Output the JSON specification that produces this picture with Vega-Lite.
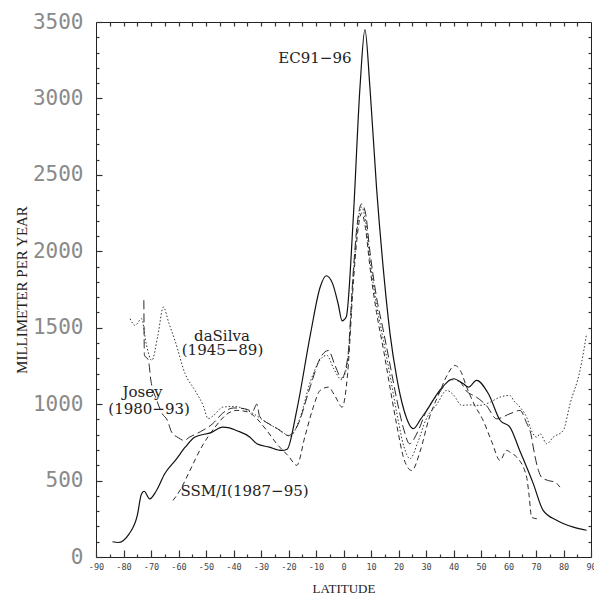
{
  "$schema": "https://vega.github.io/schema/vega-lite/v6.json",
  "width": 495,
  "height": 535,
  "autosize": {"type": "none"},
  "padding": {"left": 96, "top": 22, "right": 3, "bottom": 39},
  "background": "white",
  "config": {
    "view": {"stroke": "#222", "strokeWidth": 1},
    "axis": {"grid": false, "ticks": true, "tickColor": "#333", "tickWidth": 1.2, "domain": false, "labelFlush": false, "labelOverlap": false}
  },
  "datasets": {
    "ec": [
      {"lat": -84, "mm": 100}, {"lat": -82, "mm": 95}, {"lat": -78, "mm": 150}, {"lat": -75, "mm": 270},
      {"lat": -73.5, "mm": 410}, {"lat": -72.5, "mm": 430}, {"lat": -70.5, "mm": 380}, {"lat": -68, "mm": 435},
      {"lat": -65, "mm": 545}, {"lat": -61, "mm": 635}, {"lat": -57.5, "mm": 720}, {"lat": -54, "mm": 785},
      {"lat": -48, "mm": 815}, {"lat": -44, "mm": 850}, {"lat": -41.5, "mm": 845}, {"lat": -39, "mm": 828},
      {"lat": -34, "mm": 784}, {"lat": -31.5, "mm": 741}, {"lat": -27, "mm": 719}, {"lat": -22.5, "mm": 697},
      {"lat": -20.5, "mm": 705}, {"lat": -17, "mm": 960}, {"lat": -12, "mm": 1460}, {"lat": -8.5, "mm": 1765},
      {"lat": -6.3, "mm": 1840}, {"lat": -4, "mm": 1790}, {"lat": -2, "mm": 1660}, {"lat": -0.5, "mm": 1545},
      {"lat": 1, "mm": 1570}, {"lat": 3.5, "mm": 2200}, {"lat": 6, "mm": 3075}, {"lat": 7.8, "mm": 3450},
      {"lat": 9.6, "mm": 3075}, {"lat": 12, "mm": 2420}, {"lat": 14.5, "mm": 1880}, {"lat": 17, "mm": 1450},
      {"lat": 19.3, "mm": 1180}, {"lat": 22, "mm": 960}, {"lat": 25.4, "mm": 840}, {"lat": 28, "mm": 900},
      {"lat": 30.3, "mm": 960}, {"lat": 35, "mm": 1090}, {"lat": 40, "mm": 1166}, {"lat": 43.6, "mm": 1133},
      {"lat": 45.4, "mm": 1111}, {"lat": 48.4, "mm": 1155}, {"lat": 52.7, "mm": 1068}, {"lat": 57, "mm": 893},
      {"lat": 60.5, "mm": 850}, {"lat": 64, "mm": 700}, {"lat": 69, "mm": 480}, {"lat": 72.6, "mm": 305},
      {"lat": 77.5, "mm": 240}, {"lat": 83.6, "mm": 195}, {"lat": 88.4, "mm": 175}
    ],
    "dasilva": [
      {"lat": -77.6, "mm": 1559}, {"lat": -75.8, "mm": 1515}, {"lat": -73.4, "mm": 1559}, {"lat": -71.8, "mm": 1400},
      {"lat": -69.7, "mm": 1286}, {"lat": -67.5, "mm": 1450}, {"lat": -65.5, "mm": 1635}, {"lat": -63.5, "mm": 1530},
      {"lat": -61.3, "mm": 1417}, {"lat": -57.6, "mm": 1199}, {"lat": -54, "mm": 1090}, {"lat": -51, "mm": 990},
      {"lat": -49.2, "mm": 905}, {"lat": -47, "mm": 930}, {"lat": -44, "mm": 980}, {"lat": -40, "mm": 985},
      {"lat": -37, "mm": 975}, {"lat": -33, "mm": 940}, {"lat": -28, "mm": 880}, {"lat": -23, "mm": 828},
      {"lat": -19.5, "mm": 790}, {"lat": -16, "mm": 900}, {"lat": -12, "mm": 1150}, {"lat": -8.5, "mm": 1290},
      {"lat": -6.1, "mm": 1320}, {"lat": -3.5, "mm": 1230}, {"lat": -0.7, "mm": 1160}, {"lat": 1.5, "mm": 1280},
      {"lat": 3.6, "mm": 1850}, {"lat": 5, "mm": 2150}, {"lat": 6.6, "mm": 2290}, {"lat": 8, "mm": 2200},
      {"lat": 9.6, "mm": 1950}, {"lat": 12, "mm": 1650}, {"lat": 14.5, "mm": 1420}, {"lat": 17, "mm": 1180},
      {"lat": 19.5, "mm": 930}, {"lat": 22, "mm": 720}, {"lat": 24.2, "mm": 643}, {"lat": 27, "mm": 750},
      {"lat": 30, "mm": 900}, {"lat": 34, "mm": 1000}, {"lat": 37.5, "mm": 1090}, {"lat": 40, "mm": 1060},
      {"lat": 43, "mm": 992}, {"lat": 46, "mm": 995}, {"lat": 49.6, "mm": 992}, {"lat": 53, "mm": 1010},
      {"lat": 56.9, "mm": 1046}, {"lat": 60.5, "mm": 1057}, {"lat": 62, "mm": 1020}, {"lat": 64.2, "mm": 980},
      {"lat": 66.6, "mm": 915}, {"lat": 68.5, "mm": 820}, {"lat": 70.3, "mm": 784}, {"lat": 71.5, "mm": 806},
      {"lat": 73.9, "mm": 741}, {"lat": 76.3, "mm": 784}, {"lat": 79.9, "mm": 828}, {"lat": 82.4, "mm": 1003},
      {"lat": 86, "mm": 1220}, {"lat": 88.4, "mm": 1461}
    ],
    "josey": [
      {"lat": -72.6, "mm": 1680}, {"lat": -72.4, "mm": 1320}, {"lat": -71, "mm": 1290}, {"lat": -70, "mm": 1150},
      {"lat": -68, "mm": 1030}, {"lat": -66, "mm": 940}, {"lat": -64, "mm": 893}, {"lat": -62.5, "mm": 817},
      {"lat": -60, "mm": 780}, {"lat": -58, "mm": 762}, {"lat": -56, "mm": 784}, {"lat": -52, "mm": 820},
      {"lat": -47.5, "mm": 873}, {"lat": -44, "mm": 940}, {"lat": -40, "mm": 975}, {"lat": -36, "mm": 970},
      {"lat": -33, "mm": 955}, {"lat": -31.5, "mm": 1000}, {"lat": -30.5, "mm": 920}, {"lat": -27, "mm": 870},
      {"lat": -24, "mm": 839}, {"lat": -20, "mm": 795}, {"lat": -17, "mm": 850}, {"lat": -12, "mm": 1120},
      {"lat": -8.5, "mm": 1300}, {"lat": -5.5, "mm": 1351}, {"lat": -3, "mm": 1250}, {"lat": -0.7, "mm": 1170},
      {"lat": 1.5, "mm": 1300}, {"lat": 3.6, "mm": 1880}, {"lat": 5, "mm": 2180}, {"lat": 6.6, "mm": 2310},
      {"lat": 8, "mm": 2250}, {"lat": 9.6, "mm": 2000}, {"lat": 12, "mm": 1700}, {"lat": 14.5, "mm": 1480},
      {"lat": 17, "mm": 1250}, {"lat": 19.5, "mm": 1020}, {"lat": 22, "mm": 830}, {"lat": 24, "mm": 741},
      {"lat": 27, "mm": 820}, {"lat": 30, "mm": 950}, {"lat": 35, "mm": 1080}, {"lat": 39, "mm": 1160},
      {"lat": 42, "mm": 1150}, {"lat": 45, "mm": 1080}, {"lat": 48, "mm": 1050}, {"lat": 52, "mm": 990},
      {"lat": 55.7, "mm": 904}, {"lat": 60.5, "mm": 937}, {"lat": 64.2, "mm": 959}, {"lat": 66.5, "mm": 880},
      {"lat": 68.4, "mm": 784}, {"lat": 69, "mm": 719}, {"lat": 70.9, "mm": 566}, {"lat": 72, "mm": 522},
      {"lat": 74.5, "mm": 500}, {"lat": 76.9, "mm": 490}, {"lat": 78.7, "mm": 457}
    ],
    "ssmi": [
      {"lat": -62, "mm": 370}, {"lat": -59, "mm": 450}, {"lat": -56.4, "mm": 545}, {"lat": -51.6, "mm": 719},
      {"lat": -46.7, "mm": 850}, {"lat": -42, "mm": 940}, {"lat": -38.8, "mm": 959}, {"lat": -35, "mm": 950},
      {"lat": -32.8, "mm": 926}, {"lat": -28, "mm": 830}, {"lat": -24.3, "mm": 741}, {"lat": -20, "mm": 660},
      {"lat": -17, "mm": 600}, {"lat": -14, "mm": 790}, {"lat": -11, "mm": 980}, {"lat": -8.5, "mm": 1090},
      {"lat": -5.5, "mm": 1111}, {"lat": -3, "mm": 1050}, {"lat": -0.5, "mm": 980}, {"lat": 1.5, "mm": 1200},
      {"lat": 3.6, "mm": 1800}, {"lat": 5, "mm": 2100}, {"lat": 6.6, "mm": 2250}, {"lat": 8, "mm": 2150},
      {"lat": 9.6, "mm": 1900}, {"lat": 12, "mm": 1600}, {"lat": 14.5, "mm": 1360}, {"lat": 17, "mm": 1100},
      {"lat": 19.5, "mm": 850}, {"lat": 22, "mm": 640}, {"lat": 24.8, "mm": 566}, {"lat": 28, "mm": 700},
      {"lat": 31, "mm": 900}, {"lat": 35, "mm": 1080}, {"lat": 38, "mm": 1200}, {"lat": 40.5, "mm": 1253},
      {"lat": 42.5, "mm": 1220}, {"lat": 44.8, "mm": 1111}, {"lat": 47.5, "mm": 1000}, {"lat": 50.8, "mm": 893},
      {"lat": 54, "mm": 750}, {"lat": 56.9, "mm": 632}, {"lat": 59.3, "mm": 697}, {"lat": 61, "mm": 680},
      {"lat": 63, "mm": 653}, {"lat": 66.6, "mm": 522}, {"lat": 67.5, "mm": 400}, {"lat": 68.4, "mm": 260},
      {"lat": 70.3, "mm": 250}
    ],
    "labels": [
      {"text": "EC91−96", "lat": -10.4, "mm": 3230},
      {"text": "daSilva", "lat": -44.2, "mm": 1412},
      {"text": "(1945−89)", "lat": -44, "mm": 1319},
      {"text": "Josey", "lat": -73.1, "mm": 1050},
      {"text": "(1980−93)", "lat": -70.7, "mm": 933},
      {"text": "SSM/I(1987−95)", "lat": -36, "mm": 402}
    ]
  },
  "resolve": {"axis": {"x": "independent", "y": "independent"}},
  "layer": [
    {
      "data": {"name": "ec"},
      "mark": {"type": "line", "color": "#111", "strokeWidth": 1.2, "interpolate": "monotone"},
      "encoding": {
        "x": {"field": "lat", "type": "quantitative", "scale": {"domain": [-90, 90], "nice": false, "zero": false},
          "axis": {"orient": "bottom", "values": [-90,-80,-70,-60,-50,-40,-30,-20,-10,0,10,20,30,40,50,60,70,80,90],
            "tickSize": -7, "labelPadding": 12, "labelFont": "DejaVu Sans Mono", "labelFontSize": 8.5, "labelColor": "#444",
            "labelExpr": "toString(datum.value)", "title": "LATITUDE", "titleFont": "Liberation Serif", "titleFontSize": 13,
            "titleFontWeight": "normal", "titleColor": "#222", "titlePadding": 12}},
        "y": {"field": "mm", "type": "quantitative", "scale": {"domain": [0, 3500], "nice": false},
          "axis": {"orient": "left", "values": [0,500,1000,1500,2000,2500,3000,3500],
            "tickSize": -6, "labelPadding": 19, "labelFont": "DejaVu Sans Mono", "labelFontSize": 21, "labelColor": "#8a8a8a",
            "labelExpr": "toString(datum.value)",
            "title": "MILLIMETER PER YEAR", "titleFont": "Liberation Serif", "titleFontSize": 15,
            "titleFontWeight": "normal", "titleColor": "#222", "titlePadding": 3}}
      }
    },
    {
      "data": {"name": "dasilva"},
      "mark": {"type": "line", "color": "#333", "strokeWidth": 1, "strokeDash": [1.5, 2], "interpolate": "monotone"},
      "encoding": {
        "x": {"field": "lat", "type": "quantitative", "scale": {"domain": [-90, 90], "nice": false, "zero": false},
          "axis": {"orient": "bottom", "values": [-85,-75,-65,-55,-45,-35,-25,-15,-5,5,15,25,35,45,55,65,75,85],
            "tickSize": -3, "labels": false, "title": null}},
        "y": {"field": "mm", "type": "quantitative", "scale": {"domain": [0, 3500], "nice": false},
          "axis": {"orient": "left", "values": [100,200,300,400,600,700,800,900,1100,1200,1300,1400,1600,1700,1800,1900,2100,2200,2300,2400,2600,2700,2800,2900,3100,3200,3300,3400],
            "tickSize": -3, "labels": false, "title": null}}
      }
    },
    {
      "data": {"name": "josey"},
      "mark": {"type": "line", "color": "#2a2a2a", "strokeWidth": 1, "strokeDash": [9, 4], "interpolate": "monotone"},
      "encoding": {
        "x": {"field": "lat", "type": "quantitative", "scale": {"domain": [-90, 90], "nice": false, "zero": false},
          "axis": {"orient": "top", "values": [-85,-80,-75,-70,-65,-60,-55,-50,-45,-40,-35,-30,-25,-20,-15,-10,-5,0,5,10,15,20,25,30,35,40,45,50,55,60,65,70,75,80,85],
            "tickSize": -4, "labels": false, "title": null}},
        "y": {"field": "mm", "type": "quantitative", "scale": {"domain": [0, 3500], "nice": false},
          "axis": {"orient": "right", "values": [100,200,300,400,500,600,700,800,900,1000,1100,1200,1300,1400,1500,1600,1700,1800,1900,2000,2100,2200,2300,2400,2500,2600,2700,2800,2900,3000,3100,3200,3300,3400],
            "tickSize": -3, "labels": false, "title": null}}
      }
    },
    {
      "data": {"name": "ssmi"},
      "mark": {"type": "line", "color": "#2a2a2a", "strokeWidth": 1, "strokeDash": [5, 3.5], "interpolate": "monotone"},
      "encoding": {
        "x": {"field": "lat", "type": "quantitative", "scale": {"domain": [-90, 90], "nice": false, "zero": false}, "axis": null},
        "y": {"field": "mm", "type": "quantitative", "scale": {"domain": [0, 3500], "nice": false}, "axis": null}
      }
    },
    {
      "data": {"name": "labels"},
      "mark": {"type": "text", "font": "DejaVu Serif", "fontSize": 15, "align": "center", "baseline": "alphabetic", "color": "#222"},
      "encoding": {
        "x": {"field": "lat", "type": "quantitative", "scale": {"domain": [-90, 90], "nice": false, "zero": false}, "axis": null},
        "y": {"field": "mm", "type": "quantitative", "scale": {"domain": [0, 3500], "nice": false}, "axis": null},
        "text": {"field": "text", "type": "nominal"}
      }
    }
  ]
}
